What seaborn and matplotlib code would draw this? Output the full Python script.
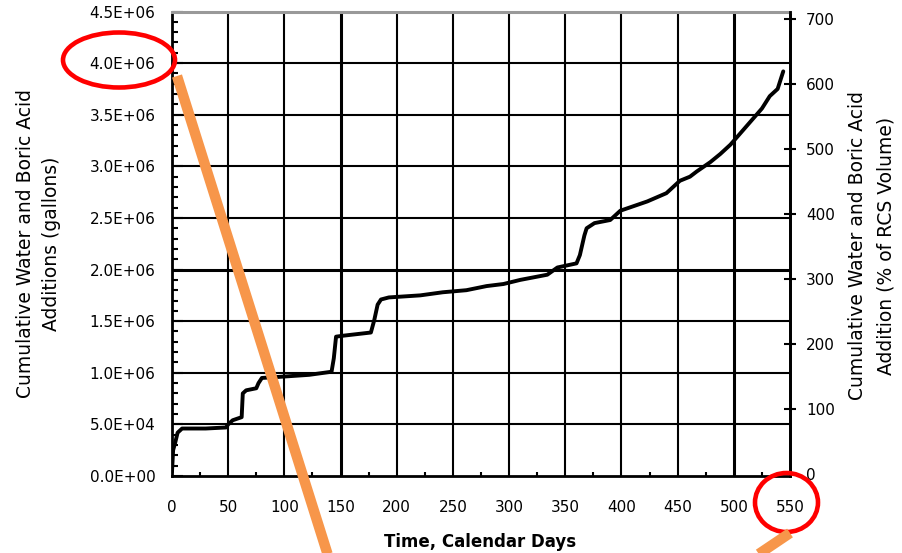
import matplotlib
matplotlib.use("Agg")
import matplotlib.pyplot as plt
import seaborn as sns
import pandas as pd
from matplotlib.patches import Ellipse
from matplotlib.lines import Line2D
from matplotlib.ticker import FixedLocator, FixedFormatter

# Cumulative additions over time (calendar days, gallons)
days = [0, 1, 3, 5, 9, 30, 48, 50, 54, 62,
        63, 66, 75, 77, 80, 95, 122, 142, 144, 146,
        153, 177, 180, 183, 186, 193, 221, 241, 262, 280,
        295, 310, 334, 343, 360, 363, 367, 369, 376, 390,
        399, 423, 440, 452, 461, 467, 479, 488, 497, 505,
        517, 525, 532, 539, 544]
gallons = [0.04e6, 0.25e6, 0.33e6, 0.42e6, 0.46e6, 0.46e6, 0.47e6, 0.50e6, 0.54e6, 0.57e6,
           0.80e6, 0.83e6, 0.85e6, 0.90e6, 0.95e6, 0.96e6, 0.98e6, 1.01e6, 1.14e6, 1.35e6,
           1.36e6, 1.39e6, 1.51e6, 1.66e6, 1.71e6, 1.73e6, 1.75e6, 1.78e6, 1.80e6, 1.84e6,
           1.86e6, 1.90e6, 1.95e6, 2.02e6, 2.06e6, 2.14e6, 2.33e6, 2.40e6, 2.45e6, 2.48e6,
           2.57e6, 2.66e6, 2.74e6, 2.86e6, 2.90e6, 2.95e6, 3.04e6, 3.12e6, 3.21e6, 3.31e6,
           3.46e6, 3.56e6, 3.68e6, 3.75e6, 3.92e6]

day_ticks = [0, 50, 100, 150, 200, 250, 300, 350, 400, 450, 500, 550]
gallon_ticks = [0, 0.5e6, 1.0e6, 1.5e6, 2.0e6, 2.5e6, 3.0e6, 3.5e6, 4.0e6, 4.5e6]
gallon_labels = ["0.0E+00", "5.0E+04", "1.0E+06", "1.5E+06", "2.0E+06",
                 "2.5E+06", "3.0E+06", "3.5E+06", "4.0E+06", "4.5E+06"]
percent_ticks = [0, 100, 200, 300, 400, 500, 600, 700]

sns.set_style("white")
plt.rcParams["font.family"] = ["DejaVu Sans"]
plt.rcParams["text.color"] = "black"
plt.rcParams["axes.labelcolor"] = "black"
plt.rcParams["xtick.color"] = "black"
plt.rcParams["ytick.color"] = "black"

W, H = 903, 553


def fx(px):
    return px / W


def fy(py):
    return 1 - py / H


fig = plt.figure(figsize=(W / 100, H / 100), dpi=100)
fig.patch.set_facecolor("white")
ax = fig.add_axes([fx(172), fy(476), (790 - 172) / W, (476 - 11.5) / H])

df = pd.DataFrame({"Day": days, "Gallons": gallons})
sns.lineplot(data=df, x="Day", y="Gallons", ax=ax, color="black",
             lw=2.8, zorder=5, legend=False)

ax.set_xlim(0, 550)
ax.set_ylim(0, 4.5e6)

# grid, with a few heavier lines
heavy_x = {150, 500}
heavy_y = {2.0e6}
for d in day_ticks[1:-1]:
    ax.axvline(d, color="black", lw=2.2 if d in heavy_x else 1.5, zorder=2)
for g in gallon_ticks[1:-1]:
    ax.axhline(g, color="black", lw=2.2 if g in heavy_y else 1.5, zorder=2)

ax.xaxis.set_major_locator(FixedLocator(day_ticks))
ax.xaxis.set_minor_locator(FixedLocator([d + 25 for d in day_ticks[:-1]]))
ax.yaxis.set_major_locator(FixedLocator(gallon_ticks))
ax.yaxis.set_major_formatter(FixedFormatter(gallon_labels))
ax.yaxis.set_minor_locator(FixedLocator([i * 1e5 for i in range(46)]))

ax.tick_params(axis="x", which="major", direction="in", length=0, pad=17,
               labelsize=11, labelcolor="black")
ax.tick_params(axis="x", which="minor", direction="in", length=3, width=1.5,
               color="black", bottom=True)
ax.tick_params(axis="y", which="major", direction="in", length=8, width=1.5,
               pad=12, labelsize=11, color="black", labelcolor="black", left=True)
ax.tick_params(axis="y", which="minor", direction="in", length=4, width=1.5,
               color="black", left=True)

for side in ("left", "bottom", "right"):
    ax.spines[side].set_color("black")
    ax.spines[side].set_linewidth(2)
ax.spines["top"].set_color("#999999")
ax.spines["top"].set_linewidth(2.2)

ax.set_xlabel("")
ax.set_ylabel("")

ax2 = ax.twinx()
ax2.set_ylim(-3, 711)
ax2.yaxis.set_major_locator(FixedLocator(percent_ticks))
ax2.tick_params(axis="y", direction="inout", length=9, width=1.5, pad=7,
                labelsize=11, color="black", labelcolor="black", right=True)
for side in ("left", "bottom", "top"):
    ax2.spines[side].set_visible(False)
ax2.spines["right"].set_color("black")
ax2.spines["right"].set_linewidth(2)

# axis titles
lab_kw = dict(rotation=90, ha="center", va="center", fontsize=13.5,
              color="black")
fig.text(fx(26), fy(244), "Cumulative Water and Boric Acid", **lab_kw)
fig.text(fx(52), fy(244), "Additions (gallons)", **lab_kw)
fig.text(fx(858), fy(246), "Cumulative Water and Boric Acid", **lab_kw)
fig.text(fx(886), fy(246), "Addition (% of RCS Volume)", **lab_kw)
fig.text(fx(480), fy(542), "Time, Calendar Days", ha="center", va="center",
         fontsize=12, fontweight="bold", color="black")

# callout marks
fig.add_artist(Ellipse((fx(119), fy(60)), 112 / W, 55 / H,
                       transform=fig.transFigure, fill=False,
                       edgecolor="#ff0000", lw=3.3, zorder=10))
fig.add_artist(Ellipse((fx(786.5), fy(502.5)), 63 / W, 59 / H,
                       transform=fig.transFigure, fill=False,
                       edgecolor="#ff0000", lw=3.3, zorder=10))
fig.add_artist(Line2D([fx(177), fx(331)], [fy(76), fy(565)],
                      transform=fig.transFigure, color="#F7964A", lw=7.5,
                      solid_capstyle="butt", zorder=11))
fig.add_artist(Line2D([fx(790), fx(738)], [fy(533), fy(568)],
                      transform=fig.transFigure, color="#F7964A", lw=7.5,
                      solid_capstyle="butt", zorder=11))

fig.savefig("out.png", dpi=100, facecolor="white")
